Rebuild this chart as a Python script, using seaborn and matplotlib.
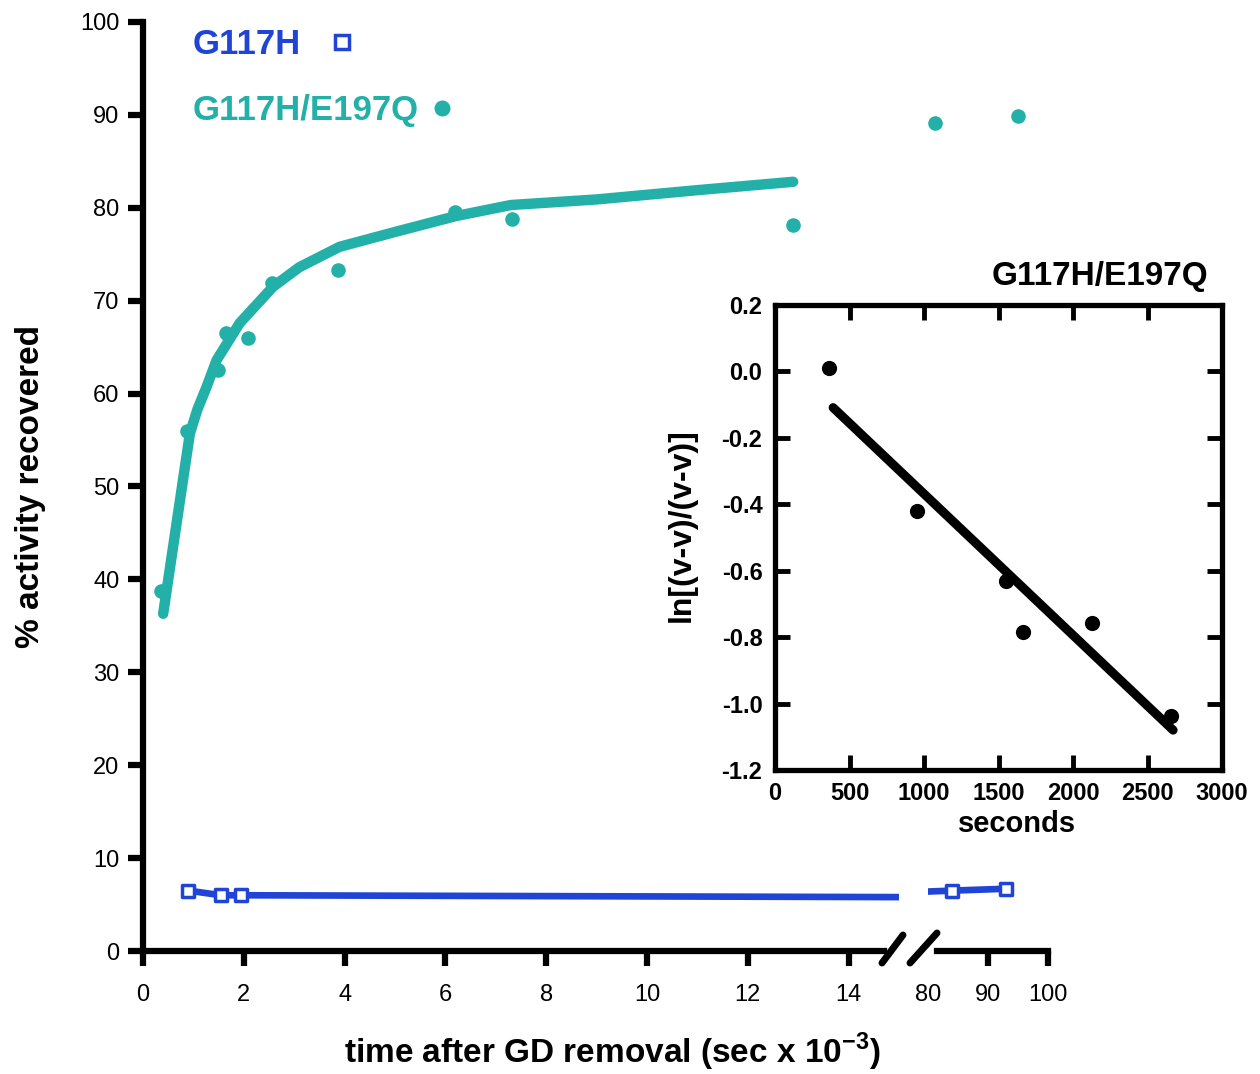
import matplotlib
matplotlib.use("Agg")
import matplotlib.pyplot as plt
from matplotlib.lines import Line2D
import numpy as np
import pandas as pd
import seaborn as sns

TEAL = "#22b0a9"
BLUE = "#1f44d6"

# G117H (open squares) - early part of the broken time axis (sec x 10^-3)
g117h_t = [0.9, 1.55, 1.95]
g117h_act = [6.5, 6.0, 6.0]
g117h_fit_t = [0.9, 1.55, 1.95, 15.0]
g117h_fit_act = [6.5, 6.0, 6.0, 5.8]
# G117H - late part (80-100)
g117h_late_t = [84, 93]
g117h_late_act = [6.5, 6.7]
g117h_late_fit_t = [80, 84, 93]
g117h_late_fit_act = [6.4, 6.5, 6.7]

# G117H/E197Q (filled dots)
dm_t = [0.36, 0.87, 1.49, 1.65, 2.08, 2.56, 3.87, 6.19, 7.32, 12.9]
dm_act = [38.8, 56.0, 62.5, 66.5, 66.0, 71.9, 73.3, 79.5, 78.8, 78.2]
dm_fit_t = [0.4, 0.93, 1.08, 1.26, 1.46, 1.92, 2.58, 3.1, 3.9, 5.0, 6.2, 7.3,
            9.0, 11.0, 12.9]
dm_fit_act = [36.3, 55.7, 58.3, 60.7, 63.6, 67.6, 71.5, 73.6, 75.8, 77.4, 79.1,
              80.3, 80.9, 81.9, 82.8]
dm_late_t = [81.2, 95.0]
dm_late_act = [89.1, 89.9]

# inset: first-order plot
inset_sec = [360, 950, 1550, 1665, 2125, 2660]
inset_ln = [0.01, -0.42, -0.63, -0.785, -0.757, -1.037]
inset_fit_sec = [390, 2672]
inset_fit_ln = [-0.109, -1.08]

left_xticks = [0, 2, 4, 6, 8, 10, 12, 14]
right_xticks = [80, 90, 100]
yticks = [0, 10, 20, 30, 40, 50, 60, 70, 80, 90, 100]
inset_xticks = [0, 500, 1000, 1500, 2000, 2500, 3000]
inset_yticks = [-1.2, -1.0, -0.8, -0.6, -0.4, -0.2, 0.0, 0.2]

sns.set_theme(style="ticks")
plt.rcParams.update({
    "font.family": ["Liberation Sans", "DejaVu Sans"],
    "axes.unicode_minus": False,
    "mathtext.fontset": "custom",
    "mathtext.rm": "Liberation Sans",
    "mathtext.bf": "Liberation Sans:bold",
    "axes.edgecolor": "black",
    "axes.labelcolor": "black",
    "text.color": "black",
    "xtick.color": "black",
    "ytick.color": "black",
})

W, H = 1260, 1074
fig = plt.figure(figsize=(W / 100, H / 100), dpi=100)


def box(l, t, r, b):
    # pixel box -> figure fraction
    return [l / W, 1 - b / H, (r - l) / W, (b - t) / H]


ax = fig.add_axes(box(143, 22, 899, 951))
ax2 = fig.add_axes(box(928, 22, 1048, 951))
axin = fig.add_axes(box(775, 305, 1222, 770))

# ---- main (left segment)
sns.lineplot(x=g117h_fit_t, y=g117h_fit_act, ax=ax, color=BLUE, lw=4.8,
             sort=False, estimator=None, solid_capstyle="round")
sns.scatterplot(x=g117h_t, y=g117h_act, ax=ax, marker="s", s=80,
                edgecolor=BLUE, linewidth=2.5, zorder=4)
ax.collections[-1].set_facecolor("white")
sns.lineplot(x=dm_fit_t, y=dm_fit_act, ax=ax, color=TEAL, lw=7.5,
             sort=False, estimator=None, solid_capstyle="round",
             solid_joinstyle="round")
sns.scatterplot(x=dm_t, y=dm_act, ax=ax, color=TEAL, s=110,
                edgecolor=TEAL, linewidth=0, zorder=4)

# ---- main (right segment, after the break)
sns.lineplot(x=g117h_late_fit_t, y=g117h_late_fit_act, ax=ax2, color=BLUE, lw=4.8,
             sort=False, estimator=None, solid_capstyle="round")
sns.scatterplot(x=g117h_late_t, y=g117h_late_act, ax=ax2, marker="s", s=80,
                edgecolor=BLUE, linewidth=2.5, zorder=4)
ax2.collections[-1].set_facecolor("white")
sns.scatterplot(x=dm_late_t, y=dm_late_act, ax=ax2, color=TEAL, s=110,
                edgecolor=TEAL, linewidth=0, zorder=4)
ax2.collections[-1].set_clip_on(False)

for a in (ax, ax2):
    a.set_ylim(0, 100)
    a.set_facecolor("none")
    sns.despine(ax=a)
    a.tick_params(axis="both", direction="out", length=11, width=4.5,
                  labelsize=17, colors="black")
    a.tick_params(axis="x", pad=13)
    a.tick_params(axis="y", pad=6)
    for s in a.spines.values():
        s.set_linewidth(4.5)

ax.set_xlim(0, 15)
ax.set_xticks(left_xticks)
ax.set_yticks(yticks)
ax.spines["bottom"].set_bounds(0, 14.7)
ax2.set_xlim(80, 100)
ax2.set_xticks(right_xticks)
ax2.xaxis.get_major_ticks()[0].tick1line.set_visible(False)
ax2.spines["left"].set_visible(False)
ax2.spines["bottom"].set_bounds(81.5, 100)
ax2.tick_params(axis="y", left=False, labelleft=False)
ax2.set_xlabel("")
ax2.set_ylabel("")

ax.set_ylabel("% activity recovered", fontsize=24, fontweight="bold")
ax.yaxis.set_label_coords((46 - 143) / 756, 0.5)
ax.set_xlabel(r"time after GD removal (sec x 10$^{\mathbf{-3}}$)",
              fontsize=24, fontweight="bold")
ax.xaxis.set_label_coords((612 - 143) / 756, -(1031 - 951) / 929)

# axis break marks
for (x1, y1, x2, y2) in [(882, 963, 903, 935), (910, 963, 937, 933)]:
    fig.add_artist(Line2D([x1 / W, x2 / W], [1 - y1 / H, 1 - y2 / H],
                          transform=fig.transFigure, color="black", lw=5,
                          solid_capstyle="round"))

# legend: text followed by the marker
h1 = Line2D([], [], marker="s", ls="none", mfc="white", mec=BLUE, mew=2.5, ms=9.5)
h2 = Line2D([], [], marker="o", ls="none", color=TEAL, ms=10.5)
leg1 = ax.legend(handles=[h1], labels=["G117H"], loc="center left",
                 bbox_to_anchor=(0.066, 0.976), frameon=False, markerfirst=False,
                 prop={"weight": "bold", "size": 25}, labelcolor=BLUE,
                 handlelength=0.8, handletextpad=0.78, borderpad=0, borderaxespad=0)
ax.add_artist(leg1)
ax.legend(handles=[h2], labels=["G117H/E197Q"], loc="center left",
          bbox_to_anchor=(0.066, 0.905), frameon=False, markerfirst=False,
          prop={"weight": "bold", "size": 25}, labelcolor=TEAL,
          handlelength=0.8, handletextpad=0.26, borderpad=0, borderaxespad=0)

# ---- inset
axin.set_facecolor("white")
sns.lineplot(x=inset_fit_sec, y=inset_fit_ln, ax=axin, color="black", lw=6.5,
             sort=False, estimator=None)
sns.scatterplot(x=inset_sec, y=inset_ln, ax=axin, color="black", s=120,
                edgecolor="black", linewidth=0, zorder=4)
axin.set_xlim(0, 3000)
axin.set_ylim(-1.2, 0.2)
axin.set_xticks(inset_xticks, labels=[str(v) for v in inset_xticks],
                fontweight="bold")
axin.set_yticks(inset_yticks, labels=[f"{v:.1f}" for v in inset_yticks],
                fontweight="bold")
axin.tick_params(axis="both", direction="in", length=11, width=3.5,
                 top=True, right=True, labelsize=17, pad=9, colors="black")
for s in axin.spines.values():
    s.set_linewidth(3.8)
    s.set_visible(True)
axin.set_xlabel("seconds", fontsize=21, fontweight="bold")
axin.xaxis.set_label_coords((1017 - 775) / 447, -(810 - 770) / 465)
axin.set_ylabel("ln[(v-v)/(v-v)]", fontsize=23, fontweight="bold")
axin.yaxis.set_label_coords((697 - 775) / 447, (770 - 525) / 465)
axin.text(0.969, 1.043, "G117H/E197Q", transform=axin.transAxes, ha="right",
          va="baseline", fontsize=24, fontweight="bold")

fig.savefig("out.png", dpi=100)
